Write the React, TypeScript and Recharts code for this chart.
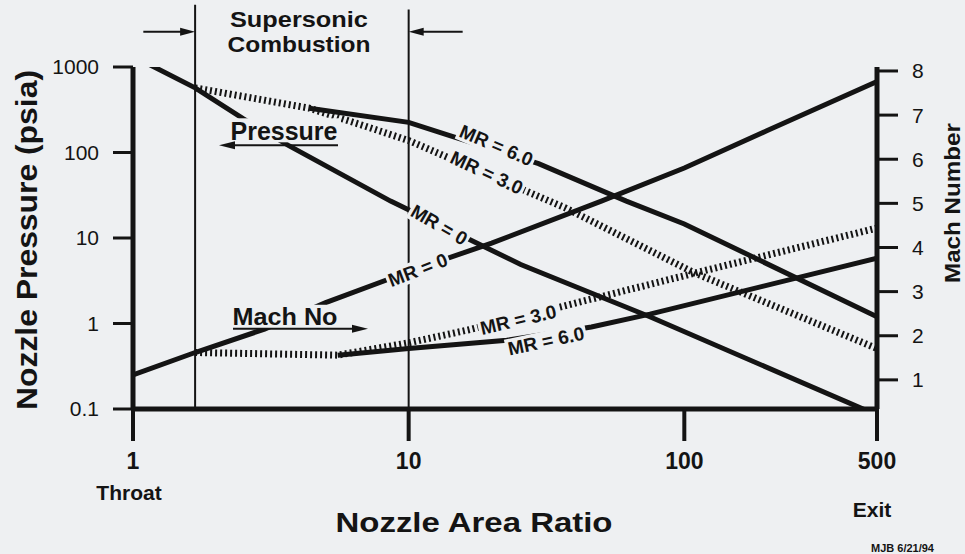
import React from "react";
import {
  ComposedChart,
  Line,
  XAxis,
  YAxis,
  ReferenceLine,
  ReferenceDot,
} from "recharts";

const FONT = '"Liberation Sans", Arial, Helvetica, sans-serif';
const INK = "#141414";
const PAPER = "#eef0f2";

// axis ticks
const areaTicks = [1, 10, 100, 500];
const pressureTicks = [0.1, 1, 10, 100, 1000];
const machTicks = [1, 2, 3, 4, 5, 6, 7, 8];

// nozzle pressure (psia) vs area ratio
const pMr0Area = [1.12, 1.68, 2.5, 3.66, 8.6, 25.5, 75, 500];
const pMr0 = [1110, 570, 250, 121, 27, 4.9, 1.2, 0.085];
const pMr3Area = [1.68, 4.36, 6.8, 10, 37, 109, 500];
const pMr3 = [570, 330, 208, 138, 22.5, 3.9, 0.51];
const pMr6Area = [4.36, 10, 14.1, 29.6, 61.6, 100, 500];
const pMr6 = [330, 225, 158, 74, 27, 14.6, 1.2];

// mach number vs area ratio
const mMr0Area = [1, 1.68, 3, 5, 10, 20, 50, 100, 200, 500];
const mMr0 = [1.11, 1.62, 2.15, 2.75, 3.45, 4.1, 5.05, 5.8, 6.65, 7.76];
const mMr3Area = [1.68, 3.07, 5.53, 10, 16.4, 35.3, 114, 500];
const mMr3 = [1.62, 1.59, 1.56, 1.84, 2.13, 2.65, 3.45, 4.44];
const mMr6Area = [5.53, 10, 22.7, 46, 75, 500];
const mMr6 = [1.56, 1.71, 1.9, 2.2, 2.49, 3.76];

// supersonic combustion zone
const combustionStart = 1.68;
const combustionEnd = 10;

const pts = (xs: number[], ys: number[]) => xs.map((x, i) => ({ x, y: ys[i] }));

const tag = (text: string, angle: number, w: number) => (p: any) => (
  <g transform={`translate(${p.cx},${p.cy}) rotate(${angle})`}>
    <rect x={-w / 2} y={-10} width={w} height={20} fill={PAPER} />
    <text
      textAnchor="middle"
      dominantBaseline="central"
      fontFamily={FONT}
      fontWeight="bold"
      fontSize={19}
      fill={INK}
    >
      {text}
    </text>
  </g>
);

const arrow = (p: any) => {
  const { x1, y1, x2, y2 } = p;
  const dir = x2 > x1 ? 1 : -1;
  return (
    <g>
      <line x1={x1} y1={y1} x2={x2 - dir * 10} y2={y2} stroke={INK} strokeWidth={2} />
      <polygon
        points={`${x2},${y2} ${x2 - dir * 15},${y2 - 4} ${x2 - dir * 15},${y2 + 4}`}
        fill={INK}
      />
    </g>
  );
};

const pressureNote = (p: any) => {
  const { cx, cy } = p;
  return (
    <g>
      <rect x={cx - 57} y={cy - 13} width={114} height={24} fill={PAPER} />
      <text
        x={cx}
        y={cy}
        textAnchor="middle"
        dominantBaseline="central"
        fontFamily={FONT}
        fontWeight="bold"
        fontSize={25}
        textLength={107}
        lengthAdjust="spacingAndGlyphs"
        fill={INK}
      >
        Pressure
      </text>
      <line x1={cx + 54} y1={cy + 14} x2={cx - 52} y2={cy + 14} stroke={INK} strokeWidth={2} />
      <polygon
        points={`${cx - 65},${cy + 14} ${cx - 49},${cy + 10} ${cx - 49},${cy + 18}`}
        fill={INK}
      />
    </g>
  );
};

const machNote = (p: any) => {
  const { cx, cy } = p;
  return (
    <g>
      <rect x={cx - 55} y={cy - 12} width={110} height={24} fill={PAPER} />
      <text
        x={cx}
        y={cy}
        textAnchor="middle"
        dominantBaseline="central"
        fontFamily={FONT}
        fontWeight="bold"
        fontSize={24}
        textLength={105}
        lengthAdjust="spacingAndGlyphs"
        fill={INK}
      >
        Mach No
      </text>
      <line x1={cx - 52} y1={cy + 12} x2={cx + 70} y2={cy + 12} stroke={INK} strokeWidth={2} />
      <polygon
        points={`${cx + 83},${cy + 12} ${cx + 67},${cy + 8} ${cx + 67},${cy + 16}`}
        fill={INK}
      />
    </g>
  );
};

const header = (p: any) => {
  const { cx, cy } = p;
  return (
    <g fontFamily={FONT} fontWeight="bold" fontSize={22} fill={INK}>
      <text
        x={cx}
        y={cy - 12}
        textAnchor="middle"
        dominantBaseline="central"
        textLength={138}
        lengthAdjust="spacingAndGlyphs"
      >
        Supersonic
      </text>
      <text
        x={cx}
        y={cy + 13}
        textAnchor="middle"
        dominantBaseline="central"
        textLength={143}
        lengthAdjust="spacingAndGlyphs"
      >
        Combustion
      </text>
    </g>
  );
};

export default function App() {
  return (
    <div
      style={{
        position: "absolute",
        left: 0,
        top: 0,
        width: 965,
        height: 554,
        background: PAPER,
      }}
    >
      <ComposedChart width={965} height={554} margin={{ top: 67, right: 0, bottom: 75, left: 0 }}>
        <XAxis
          dataKey="x"
          type="number"
          scale="log"
          domain={[1, 500]}
          ticks={areaTicks}
          allowDataOverflow
          height={70}
          tickSize={32}
          tickMargin={12}
          axisLine={{ stroke: INK, strokeWidth: 5 }}
          tickLine={{ stroke: INK, strokeWidth: 4 }}
          tick={{ fill: INK, fontSize: 23, fontWeight: "bold", fontFamily: FONT }}
        />
        <YAxis
          yAxisId="p"
          type="number"
          scale="log"
          domain={[0.1, 1000]}
          ticks={pressureTicks}
          allowDataOverflow
          width={133}
          tickSize={20}
          tickMargin={14}
          axisLine={{ stroke: INK, strokeWidth: 5 }}
          tickLine={{ stroke: INK, strokeWidth: 3 }}
          tick={{ fill: INK, fontSize: 21, fontFamily: FONT }}
          tickFormatter={(v: number) => String(v)}
        />
        <YAxis
          yAxisId="m"
          orientation="right"
          type="number"
          domain={[0.34, 8.09]}
          ticks={machTicks}
          allowDataOverflow
          width={88}
          tickSize={21}
          tickMargin={14}
          axisLine={{ stroke: INK, strokeWidth: 5 }}
          tickLine={{ stroke: INK, strokeWidth: 3 }}
          tick={{ fill: INK, fontSize: 21, fontFamily: FONT }}
        />

        <ReferenceLine
          yAxisId="p"
          segment={[
            { x: combustionStart, y: 5350 },
            { x: combustionStart, y: 0.1 },
          ]}
          stroke={INK}
          strokeWidth={2}
          ifOverflow="visible"
        />
        <ReferenceLine
          yAxisId="p"
          segment={[
            { x: combustionEnd, y: 4690 },
            { x: combustionEnd, y: 0.1 },
          ]}
          stroke={INK}
          strokeWidth={2}
          ifOverflow="visible"
        />

        <Line data={pts(pMr0Area, pMr0)} dataKey="y" yAxisId="p" type="linear" stroke={INK} strokeWidth={5} dot={false} isAnimationActive={false} />
        <Line data={pts(pMr6Area, pMr6)} dataKey="y" yAxisId="p" type="linear" stroke={INK} strokeWidth={5} dot={false} isAnimationActive={false} />
        <Line data={pts(pMr3Area, pMr3)} dataKey="y" yAxisId="p" type="linear" stroke={INK} strokeWidth={7} strokeDasharray="2 3" dot={false} isAnimationActive={false} />
        <Line data={pts(mMr0Area, mMr0)} dataKey="y" yAxisId="m" type="linear" stroke={INK} strokeWidth={5} dot={false} isAnimationActive={false} />
        <Line data={pts(mMr6Area, mMr6)} dataKey="y" yAxisId="m" type="linear" stroke={INK} strokeWidth={5} dot={false} isAnimationActive={false} />
        <Line data={pts(mMr3Area, mMr3)} dataKey="y" yAxisId="m" type="linear" stroke={INK} strokeWidth={7} strokeDasharray="2 3" dot={false} isAnimationActive={false} />

        <ReferenceDot x={20.8} y={121} yAxisId="p" r={0} ifOverflow="visible" shape={tag("MR = 6.0", 23, 82)} />
        <ReferenceDot x={19.2} y={58} yAxisId="p" r={0} ifOverflow="visible" shape={tag("MR = 3.0", 25, 82)} />
        <ReferenceDot x={12.9} y={14.2} yAxisId="p" r={0} ifOverflow="visible" shape={tag("MR = 0", 30, 66)} />
        <ReferenceDot x={10.8} y={3.49} yAxisId="m" r={0} ifOverflow="visible" shape={tag("MR = 0", -21, 66)} />
        <ReferenceDot x={25} y={2.36} yAxisId="m" r={0} ifOverflow="visible" shape={tag("MR = 3.0", -13, 82)} />
        <ReferenceDot x={31.5} y={1.88} yAxisId="m" r={0} ifOverflow="visible" shape={tag("MR = 6.0", -12, 82)} />

        <ReferenceDot x={3.53} y={177} yAxisId="p" r={0} ifOverflow="visible" shape={pressureNote} />
        <ReferenceDot x={3.56} y={2.43} yAxisId="m" r={0} ifOverflow="visible" shape={machNote} />

        <ReferenceDot x={4.0} y={2580} yAxisId="p" r={0} ifOverflow="visible" shape={header} />
        <ReferenceLine
          yAxisId="p"
          segment={[
            { x: 1.09, y: 2580 },
            { x: combustionStart, y: 2580 },
          ]}
          ifOverflow="visible"
          shape={arrow}
        />
        <ReferenceLine
          yAxisId="p"
          segment={[
            { x: 15.7, y: 2580 },
            { x: combustionEnd, y: 2580 },
          ]}
          ifOverflow="visible"
          shape={arrow}
        />

        <text
          transform="translate(27,240) rotate(-90)"
          textAnchor="middle"
          dominantBaseline="central"
          fontFamily={FONT}
          fontWeight="bold"
          fontSize={29}
          textLength={340}
          lengthAdjust="spacingAndGlyphs"
          fill={INK}
        >
          Nozzle Pressure (psia)
        </text>
        <text
          transform="translate(952,203) rotate(-90)"
          textAnchor="middle"
          dominantBaseline="central"
          fontFamily={FONT}
          fontWeight="bold"
          fontSize={22}
          textLength={160}
          lengthAdjust="spacingAndGlyphs"
          fill={INK}
        >
          Mach Number
        </text>
        <text
          x={474}
          y={532}
          textAnchor="middle"
          fontFamily={FONT}
          fontWeight="bold"
          fontSize={28}
          textLength={277}
          lengthAdjust="spacingAndGlyphs"
          fill={INK}
        >
          Nozzle Area Ratio
        </text>
        <text x={129} y={500} textAnchor="middle" fontFamily={FONT} fontWeight="bold" fontSize={21} fill={INK}>
          Throat
        </text>
        <text x={872} y={517} textAnchor="middle" fontFamily={FONT} fontWeight="bold" fontSize={21} fill={INK}>
          Exit
        </text>
        <text x={871} y={552} fontFamily={FONT} fontWeight="bold" fontSize={11} fill={INK}>
          MJB 6/21/94
        </text>
      </ComposedChart>
    </div>
  );
}
